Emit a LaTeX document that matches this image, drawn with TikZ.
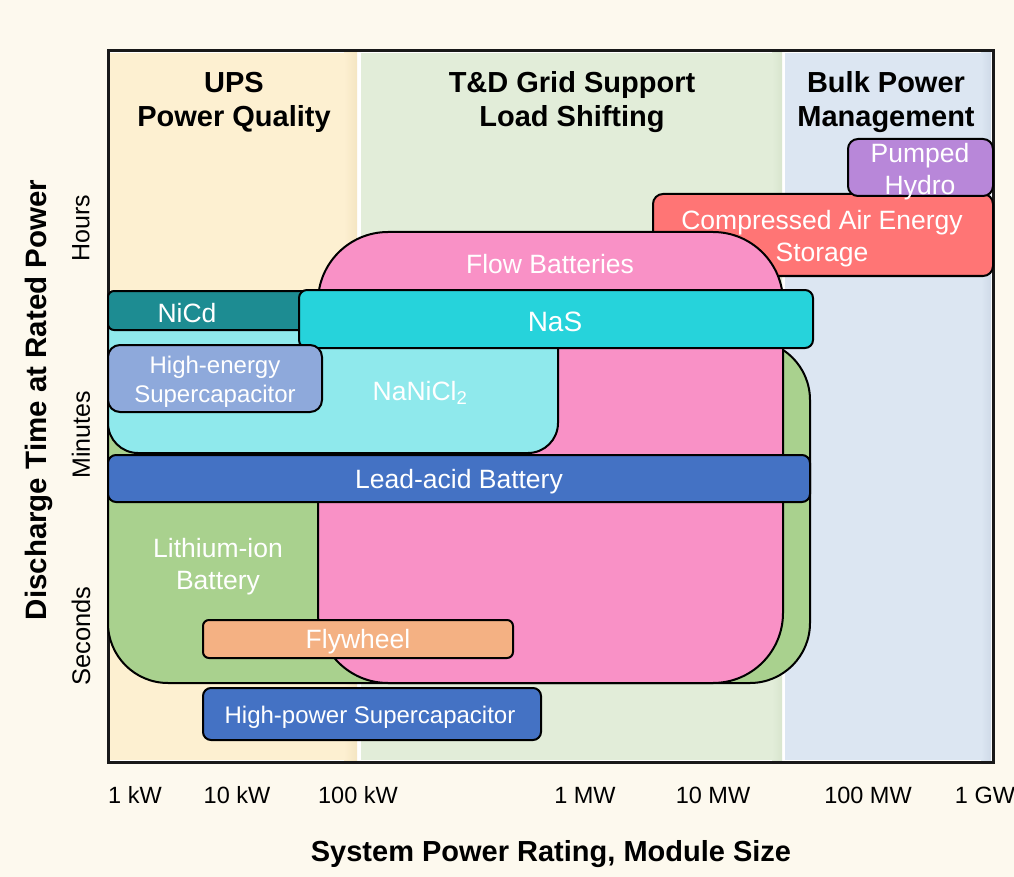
\documentclass[tikz,border=0pt]{standalone}
\usepackage{fontspec}
\setmainfont{Liberation Sans}
\definecolor{paper}{HTML}{FDF9EE}
\definecolor{upsband}{HTML}{FDF0D1}
\definecolor{upsbandD}{HTML}{F4E5C2}
\definecolor{tdband}{HTML}{E2EDD9}
\definecolor{tdbandD}{HTML}{D8E5CE}
\definecolor{bulkband}{HTML}{DCE6F2}
\definecolor{bulkbandD}{HTML}{CFDAE8}
\definecolor{phcol}{HTML}{B887D9}
\definecolor{caescol}{HTML}{FF7575}
\definecolor{flowcol}{HTML}{F991C6}
\definecolor{licol}{HTML}{A9D18E}
\definecolor{nanicol}{HTML}{8FE9EC}
\definecolor{nicdcol}{HTML}{1D8C92}
\definecolor{nascol}{HTML}{26D3DB}
\definecolor{hecol}{HTML}{8EA9DB}
\definecolor{leadcol}{HTML}{4472C4}
\definecolor{flycol}{HTML}{F4B183}
\tikzset{
  techbox/.style={draw=black, line width=2pt},
  lbl/.style={text=white, font=\fontsize{26.5}{32}\selectfont, align=center, inner sep=0pt},
  hdr/.style={font=\bfseries\fontsize{29}{34}\selectfont, align=center, inner sep=0pt},
  tick/.style={font=\fontsize{23.5}{28}\selectfont, inner sep=0pt},
  axtitle/.style={font=\bfseries\fontsize{29}{32}\selectfont, inner sep=0pt}
}
\begin{document}
\begin{tikzpicture}[x=1pt, y=-1pt]
% page
\fill[paper] (0,0) rectangle (1014,877);
\useasboundingbox (0,0) rectangle (1014,877);

% plot area and application bands
\fill[white] (108,51) rectangle (993,762);
\fill[upsband] (110,53) rectangle (357,760);
\shade[left color=upsband, right color=upsbandD] (344,53) rectangle (357,760);
\fill[tdband] (361,53) rectangle (782,760);
\shade[left color=tdband, right color=tdbandD] (772,53) rectangle (782,760);
\fill[bulkband] (785,53) rectangle (991,760);
\shade[left color=bulkband, right color=bulkbandD] (981,53) rectangle (991,760);
\draw[line width=3pt, black!90] (108,51) rectangle (993,762);

% band headings
\node[hdr] (hups) at (234,102) {UPS\\Power Quality};
\node[hdr] (htd) at (572,102) {T\&D Grid Support\\Load Shifting};
\node[hdr] (hbulk) at (886,102) {Bulk Power\\Management};

% technology regions, back to front
\path[techbox, fill=caescol, rounded corners=10pt] (653,194) rectangle (993,276);
\node[lbl] (caes) at (822,239) {Compressed Air Energy\\Storage};

\path[techbox, fill=phcol, rounded corners=10pt] (848,139) rectangle (993,196);
\node[lbl] (ph) at (920,172) {Pumped\\Hydro};

\path[techbox, fill=licol, rounded corners=60pt] (108,340) rectangle (810,683);
\node[lbl] (li) at (218,567) {Lithium-ion\\Battery};

\path[techbox, fill=flowcol, rounded corners=70pt] (318,232) rectangle (783,683);
\node[lbl] (flow) at (550,264) {Flow Batteries};

\path[techbox, fill=nanicol, rounded corners=30pt] (108,300) rectangle (558,453);
\node[lbl] (nani) at (420,393) {NaNiCl\textsubscript{2}};

\path[techbox, fill=nicdcol, rounded corners=6pt] (108,291) rectangle (320,330);
\node[lbl] (nicd) at (187,313) {NiCd};

\path[techbox, fill=nascol, rounded corners=8pt] (299,290) rectangle (813,348);
\node[lbl, font=\fontsize{28}{32}\selectfont] (nas) at (555,322) {NaS};

\path[techbox, fill=hecol, rounded corners=12pt] (108,345) rectangle (322,412);
\node[lbl, font=\fontsize{24}{29}\selectfont] (hesc) at (215,382) {High-energy\\Supercapacitor};

\path[techbox, fill=leadcol, rounded corners=8pt] (108,455) rectangle (810,502);
\node[lbl] (lead) at (459,482) {Lead-acid Battery};

\path[techbox, fill=flycol, rounded corners=6pt] (203,620) rectangle (513,658);
\node[lbl] (fly) at (358,642) {Flywheel};

\path[techbox, fill=leadcol, rounded corners=8pt] (203,688) rectangle (541,740);
\node[lbl, font=\fontsize{24}{29}\selectfont] (hpsc) at (370,717) {High-power Supercapacitor};

% horizontal axis
\node[tick] (t1k) at (135,795) {1 kW};
\node[tick] (t10k) at (237,795) {10 kW};
\node[tick] (t100k) at (358,795) {100 kW};
\node[tick] (t1m) at (585,795) {1 MW};
\node[tick] (t10m) at (713,795) {10 MW};
\node[tick] (t100m) at (868,795) {100 MW};
\node[tick] (t1g) at (985,795) {1 GW};
\node[axtitle] (xtitle) at (551,854) {System Power Rating, Module Size};

% vertical axis
\node[axtitle, rotate=90, font=\bfseries\fontsize{29.5}{32}\selectfont] (ytitle) at (39,400) {Discharge Time at Rated Power};
\node[tick, rotate=90, font=\fontsize{25}{28}\selectfont] (thours) at (81,228) {Hours};
\node[tick, rotate=90, font=\fontsize{25}{28}\selectfont] (tmin) at (81,435) {Minutes};
\node[tick, rotate=90, font=\fontsize{25.5}{28}\selectfont] (tsec) at (81,636) {Seconds};
\end{tikzpicture}
\end{document}
